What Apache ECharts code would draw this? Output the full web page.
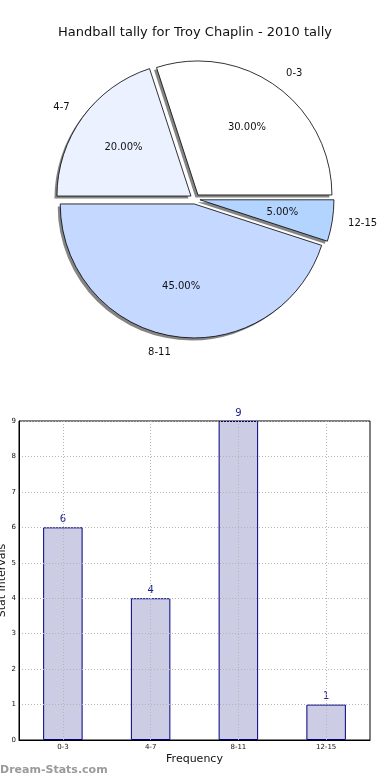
<!DOCTYPE html>
<html>
<head>
<meta charset="utf-8">
<script src="https://cdn.jsdelivr.net/npm/echarts@6/dist/echarts.min.js"></script>
<style>
html,body{margin:0;padding:0;background:#fff;}
#chart{width:390px;height:780px;}
</style>
</head>
<body>
<div id="chart"></div>
<script>
var categories = ['0-3', '4-7', '8-11', '12-15'];
var counts = [6, 4, 9, 1];
var pieColors = ['#ffffff', '#ebf1ff', '#c5d8ff', '#b3d4ff'];
var yTicks = [0, 1, 2, 3, 4, 5, 6, 7, 8, 9];

var total = counts.reduce(function (a, b) { return a + b; }, 0);
var R = 134;
var CX = 195, CY = 199;
var FONT = 'DejaVu Sans';

var pieData = categories.map(function (c, i) {
  return { name: c, value: counts[i], selected: true, itemStyle: { color: pieColors[i] } };
});
var plainData = categories.map(function (c, i) {
  return { name: c, value: counts[i], selected: true };
});

var gridLine = { color: '#b4b4b4', type: [1, 2], width: 1 };

var chart = echarts.init(document.getElementById('chart'), null, { renderer: 'canvas' });
chart.setOption({
  animation: false,
  backgroundColor: '#ffffff',
  textStyle: { fontFamily: FONT },
  title: {
    text: 'Handball tally for Troy Chaplin - 2010 tally',
    left: 'center', top: 21,
    textStyle: { fontFamily: FONT, fontSize: 13, fontWeight: 'normal', color: '#111' }
  },
  graphic: [{
    type: 'text', left: 0, top: 765,
    style: { text: 'Dream-Stats.com', fontFamily: FONT, fontSize: 11, fontWeight: 'bold', fill: '#9a9a9a' }
  }],
  grid: {
    left: 19, right: 20, top: 421, bottom: 40,
    containLabel: false, outerBoundsMode: 'none',
    show: true, borderColor: '#000', borderWidth: 1, backgroundColor: 'transparent'
  },
  xAxis: [{
    type: 'category', data: categories, z: 5,
    name: 'Frequency', nameLocation: 'middle', nameGap: 14, nameMoveOverlap: false,
    nameTextStyle: { fontFamily: FONT, fontSize: 11, color: '#111' },
    axisLine: { lineStyle: { color: '#000', width: 1 } },
    axisTick: { show: false },
    axisLabel: { fontFamily: FONT, fontSize: 7, color: '#111', margin: 4 },
    splitLine: { show: false }
  }, {
    type: 'value', min: 0, max: 8, interval: 2, z: 5,
    position: 'bottom',
    axisLine: { show: false }, axisTick: { show: false }, axisLabel: { show: false },
    splitLine: { show: false },
    minorTick: { show: false, splitNumber: 2 },
    minorSplitLine: { show: true, lineStyle: gridLine }
  }],
  yAxis: {
    type: 'value', min: 0, max: 9, interval: 1, z: 5,
    name: 'Stat Intervals', nameLocation: 'middle', nameGap: 11, nameMoveOverlap: false,
    nameTextStyle: { fontFamily: FONT, fontSize: 11, color: '#111' },
    axisLine: { show: true, lineStyle: { color: '#000', width: 1 } },
    axisTick: { show: false },
    axisLabel: { fontFamily: FONT, fontSize: 7, color: '#111', margin: 3,
      formatter: function (v) { return yTicks.indexOf(v) >= 0 ? String(v) : ''; } },
    splitLine: { show: true, lineStyle: gridLine }
  },
  series: [
    {
      type: 'pie',
      center: [CX - 2.5, CY + 2.5], radius: R,
      startAngle: 0, clockwise: false,
      selectedMode: 'multiple', selectedOffset: 5,
      silent: true,
      data: plainData,
      itemStyle: { color: '#858585', borderWidth: 0 },
      select: { itemStyle: { color: '#858585', borderWidth: 0 } },
      label: { show: false }, labelLine: { show: false },
      z: 1
    },
    {
      type: 'pie',
      center: [CX, CY], radius: R,
      startAngle: 0, clockwise: false,
      selectedMode: 'multiple', selectedOffset: 5,
      avoidLabelOverlap: false,
      silent: true,
      data: pieData,
      itemStyle: { borderColor: '#000', borderWidth: 0.8 },
      select: { itemStyle: { borderColor: '#000', borderWidth: 0.8 } },
      label: {
        show: true, position: 'outside', alignTo: 'none',
        distanceToLabelLine: 0,
        fontFamily: FONT, fontSize: 10, color: '#111',
        formatter: '{b}'
      },
      labelLine: { show: false, length: 16, length2: 0 },
      z: 2
    },
    {
      type: 'pie',
      center: [CX, CY], radius: R * 1.2,
      startAngle: 0, clockwise: false,
      selectedMode: 'multiple', selectedOffset: 5,
      silent: true,
      data: plainData,
      itemStyle: { color: 'rgba(0,0,0,0)', borderWidth: 0 },
      select: { itemStyle: { color: 'rgba(0,0,0,0)', borderWidth: 0 } },
      label: {
        show: true, position: 'inside',
        fontFamily: FONT, fontSize: 10, color: '#111',
        formatter: function (p) { return (p.value / total * 100).toFixed(2) + '%'; }
      },
      labelLine: { show: false },
      z: 3
    },
    {
      type: 'bar',
      xAxisIndex: 0,
      data: counts,
      barWidth: '45%',
      itemStyle: { color: '#ccccE5', borderColor: '#00007f', borderWidth: 1 },
      label: {
        show: true, position: 'top', distance: 3,
        fontFamily: FONT, fontSize: 10, color: '#1c1c8c'
      },
      z: 2
    }
  ]
});
</script>
</body>
</html>
